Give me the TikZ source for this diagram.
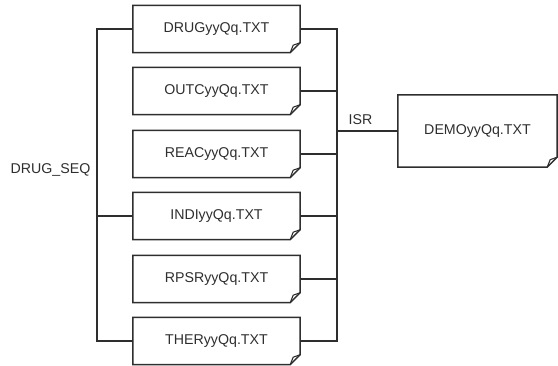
\documentclass[tikz,border=0pt]{standalone}
\usepackage{fontspec}
\setmainfont{Liberation Sans}
\begin{document}
\begin{tikzpicture}[x=1pt,y=-1pt,
  ink/.style={draw=black!82, line width=1.5pt, line join=miter},
  label/.style={font=\fontsize{14.2}{16}\selectfont, text=black!82, inner sep=0pt},
  docbox/.style={label, minimum width=167pt, minimum height=47pt},
  link/.style={ink}]
\useasboundingbox (0,0) rectangle (558,366);

% file nodes
\node[docbox] (drug) at (216.5,29)  {DRUGyyQq.TXT};
\node[docbox] (outc) at (216.5,91)  {OUTCyyQq.TXT};
\node[docbox] (reac) at (216.5,154) {REACyyQq.TXT};
\node[docbox] (indi) at (216.5,216) {INDIyyQq.TXT};
\node[docbox] (rpsr) at (216.5,279) {RPSRyyQq.TXT};
\node[docbox] (ther) at (216.5,341) {THERyyQq.TXT};
\node[label, minimum width=159pt, minimum height=72pt] (demo) at (477.5,131) {DEMOyyQq.TXT};

% document outlines with folded lower-right corner
\foreach \n in {drug,outc,reac,indi,rpsr,ther,demo}{
  \draw[ink] (\n.north west) -- (\n.north east) -- ([yshift=10pt]\n.south east)
    -- ([xshift=-10pt]\n.south east) -- (\n.south west) -- cycle;
  \draw[ink, line width=1.1pt] ([yshift=10pt]\n.south east) -- ([xshift=-7pt,yshift=7.5pt]\n.south east)
    -- ([xshift=-10pt]\n.south east);
}

% bus junctions
\coordinate (lt) at (97,29);
\coordinate (lb) at (97,341);
\coordinate (rt) at (337,29);
\coordinate (rb) at (337,341);
\coordinate (isr) at (337,131);

% left key bus
\draw[link] (drug.west) -- (lt) -- (lb) -- (ther.west);
\draw[link] (indi.west) -- (indi.west -| lt);

% right key bus
\draw[link] (drug.east) -- (rt) -- (rb) -- (ther.east);
\foreach \n in {outc,reac,indi,rpsr}
  \draw[link] (\n.east) -- (\n.east -| rt);
\draw[link] (isr) -- (demo.west);

% key labels
\node[label] (seq) at (50.5,170) {DRUG\_SEQ};
\node[label] (isrl) at (360.5,120) {ISR};
\end{tikzpicture}
\end{document}
